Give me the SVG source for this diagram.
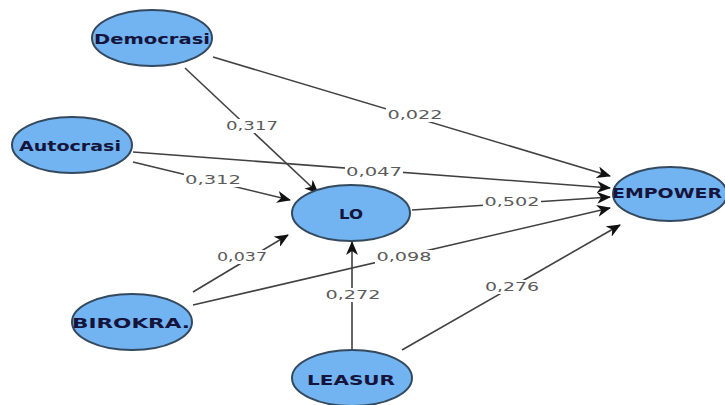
<svg xmlns="http://www.w3.org/2000/svg" width="725" height="405" viewBox="0 0 725 405">
<style>
.node ellipse{fill:#72b4f2;stroke:#34495e;stroke-width:2}
.node text{font-family:"DejaVu Sans",Verdana,sans-serif;font-weight:bold;font-size:14px;fill:#14143c;text-anchor:middle;dominant-baseline:central}
.edge{stroke:#404040;stroke-width:1.6;fill:none;marker-end:url(#arr)}
.lbl rect{fill:#ffffff}
.lbl text{font-family:"DejaVu Sans",Verdana,sans-serif;font-size:12px;fill:#5a5a5a;text-anchor:middle;dominant-baseline:central}
</style>
<defs>
<marker id="arr" markerWidth="14" markerHeight="12" refX="13" refY="6" orient="auto" markerUnits="userSpaceOnUse">
<path d="M0,0 L14,6 L0,12 L4,6 z" fill="#111"/>
</marker>
</defs>
<rect width="725" height="405" fill="#ffffff"/>
<g id="connectors">
<line class="edge" x1="213" y1="57" x2="610" y2="176"/>
<line class="edge" x1="185" y1="68" x2="318" y2="193"/>
<line class="edge" x1="133" y1="152" x2="610" y2="188"/>
<line class="edge" x1="133" y1="162" x2="290" y2="200"/>
<line class="edge" x1="412" y1="210" x2="610" y2="197"/>
<line class="edge" x1="193" y1="292" x2="288" y2="235"/>
<line class="edge" x1="193" y1="305" x2="610" y2="208"/>
<line class="edge" x1="352" y1="350" x2="352" y2="242"/>
<line class="edge" x1="402" y1="350" x2="620" y2="225"/>
<g class="lbl">
<rect x="386" y="108" width="58" height="14"/><text x="415" y="115" textLength="55" lengthAdjust="spacingAndGlyphs">0,022</text>
<rect x="223" y="119" width="58" height="14"/><text x="252" y="126" textLength="52" lengthAdjust="spacingAndGlyphs">0,317</text>
<rect x="345" y="165" width="58" height="14"/><text x="374" y="172" textLength="56" lengthAdjust="spacingAndGlyphs">0,047</text>
<rect x="184" y="173" width="58" height="14"/><text x="213" y="180" textLength="56" lengthAdjust="spacingAndGlyphs">0,312</text>
<rect x="483" y="195" width="58" height="14"/><text x="512" y="202" textLength="55" lengthAdjust="spacingAndGlyphs">0,502</text>
<rect x="213" y="250" width="58" height="14"/><text x="242" y="257" textLength="50" lengthAdjust="spacingAndGlyphs">0,037</text>
<rect x="375" y="250" width="58" height="14"/><text x="404" y="257" textLength="55" lengthAdjust="spacingAndGlyphs">0,098</text>
<rect x="324" y="288" width="58" height="14"/><text x="353" y="295" textLength="55" lengthAdjust="spacingAndGlyphs">0,272</text>
<rect x="483" y="280" width="58" height="14"/><text x="512" y="287" textLength="54" lengthAdjust="spacingAndGlyphs">0,276</text>
</g>
</g>
<g id="Democrasi" class="node"><ellipse cx="152" cy="38" rx="60" ry="28"/><text x="152" y="39" textLength="116" lengthAdjust="spacingAndGlyphs">Democrasi</text></g>
<g id="Autocrasi" class="node"><ellipse cx="72" cy="145" rx="60" ry="28"/><text x="70" y="146" textLength="102" lengthAdjust="spacingAndGlyphs">Autocrasi</text></g>
<g id="LO" class="node"><ellipse cx="351" cy="213" rx="59" ry="28"/><text x="351" y="214" textLength="24" lengthAdjust="spacingAndGlyphs">LO</text></g>
<g id="BIROKRA" class="node"><ellipse cx="132" cy="322" rx="60" ry="28"/><text x="131" y="323" textLength="118" lengthAdjust="spacingAndGlyphs">BIROKRA.</text></g>
<g id="LEASUR" class="node"><ellipse cx="352" cy="378" rx="60" ry="28"/><text x="351" y="380" textLength="88" lengthAdjust="spacingAndGlyphs">LEASUR</text></g>
<g id="EMPOWER" class="node"><ellipse cx="670" cy="194" rx="57" ry="27"/><text x="667" y="193" textLength="110" lengthAdjust="spacingAndGlyphs">EMPOWER</text></g>
</svg>
